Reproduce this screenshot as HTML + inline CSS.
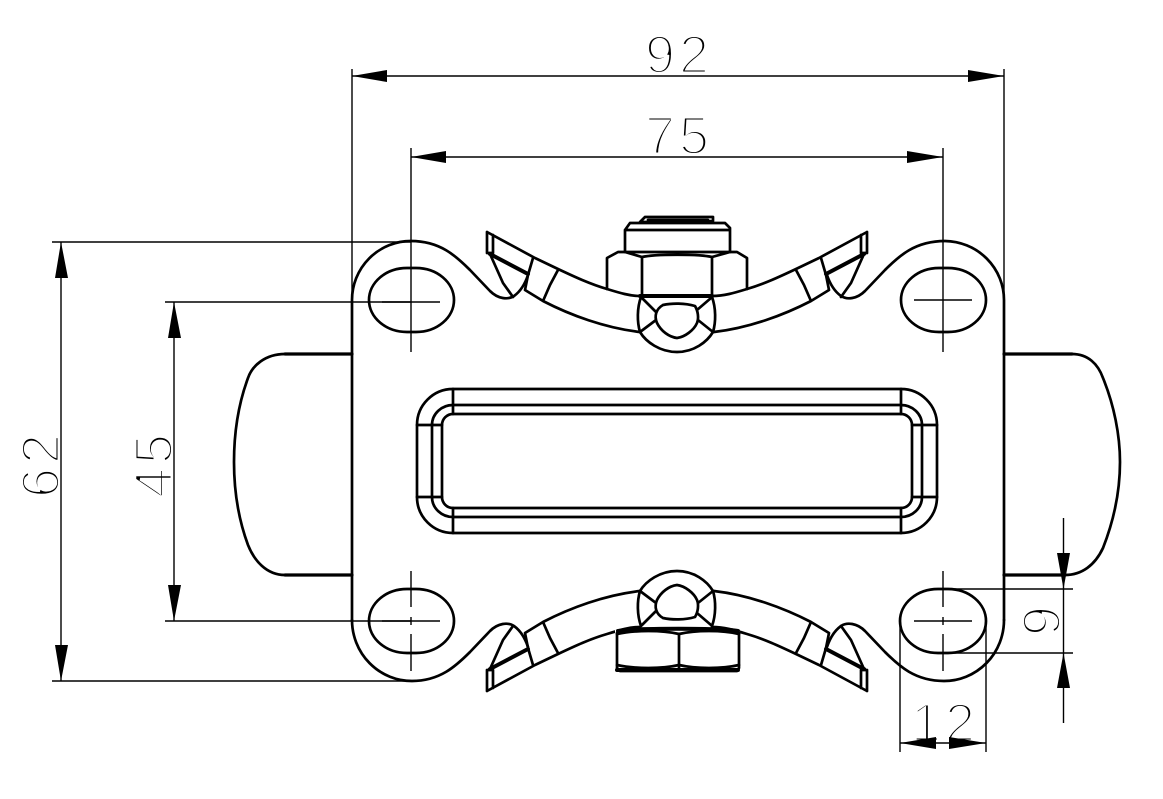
<!DOCTYPE html>
<html>
<head>
<meta charset="utf-8">
<style>
html,body{margin:0;padding:0;background:#fff}
svg{display:block}
.o{fill:none;stroke:#000;stroke-width:2.7;stroke-linejoin:round;stroke-linecap:round}
.b{fill:none;stroke:#000;stroke-width:4;stroke-linecap:round}
.h{fill:none;stroke:#000;stroke-width:3.2;stroke-linecap:round}
.d{fill:none;stroke:#000;stroke-width:1.4}
.a{fill:#000;stroke:none}
.t{font-family:"Liberation Sans",sans-serif;font-size:54px;fill:#000;stroke:#fff;stroke-width:3;paint-order:fill stroke}
</style>
</head>
<body>
<svg width="1163" height="799" viewBox="0 0 1163 799" xmlns="http://www.w3.org/2000/svg">
<rect width="1163" height="799" fill="#fff"/>

<text class="t" x="679" y="73" text-anchor="middle" letter-spacing="4">92</text>
<text class="t" x="679" y="154" text-anchor="middle" letter-spacing="4">75</text>
<text class="t" x="945" y="741" text-anchor="middle" letter-spacing="4">12</text>
<text class="t" transform="translate(59,464) rotate(-90)" text-anchor="middle" letter-spacing="4">62</text>
<text class="t" transform="translate(172,464) rotate(-90)" text-anchor="middle" letter-spacing="4">45</text>
<text class="t" transform="translate(1060,621) rotate(-90)" text-anchor="middle">9</text>

<!-- Dimension and extension lines -->
<path class="d" d="M352 76H1004M352 69V300M1004 69V300M411 157H943M411 148V352M943 148V352"/>
<path class="d" d="M61 242V681M52 242H411M52 681H405M174 302V621M165 302H411M165 621H411"/>
<path class="d" d="M900 621V752M986 621V752M900 743H986M1063.500 518V723M943 589H1073M943 653H1073"/>
<path class="d" d="M411 571V607M411 617V625M411 634V671M943 571V607M943 617V625M943 634V671"/>
<path class="d" d="M382 302H440M914 300H972M382 621H440M914 621H972"/>

<!-- Arrowheads -->
<path class="a" d="M352 76L387 70V82ZM1004 76L968 70V82ZM411 157L446 151V163ZM943 157L907 151V163Z"/>
<path class="a" d="M61 242L55 278H68ZM61 681L55 645H68ZM174 302L168 338H181ZM174 621L168 585H181Z"/>
<path class="a" d="M900 743L936 737V749ZM986 743L949 737V749ZM1063.500 589L1057 553H1070ZM1063.500 653L1057 688H1070Z"/>

<!-- Plate -->
<path class="o" d="M352 620V300A59 59 0 0 1 411 241C440 241 456 256 470 270L490 291C498 299 508 300 514 296C521 291 525 284 528 275M1004 620V300A60 59 0 0 0 945 241C915 241 899 256 885 270L865 291C857 299 847 300 841 296C834 291 830 284 827 275"/>
<path class="o" d="M352 620A60 61 0 0 0 412 681C440 681 456 666 470 652L490 631C498 623 508 622 514 626C521 631 525 638 528 647M1004 620A60 61 0 0 1 944 681C915 681 899 666 885 652L865 631C857 623 847 622 841 626C834 631 830 638 827 647"/>

<!-- Handles -->
<path class="o" d="M352 354H285C265 354 252 366 248 378C238 405 234 435 234 462C234 490 238 518 248 545C254 560 266 575 285 575H352"/>
<path class="o" d="M1004 354H1072C1088 354 1098 364 1103 378C1114 405 1120 435 1120 462C1120 490 1114 520 1103 548C1095 565 1082 575 1065 575H1004"/>
<path class="h" d="M285 354H352M285 575H352M1004 354H1072M1004 575H1065"/>

<!-- Slots -->
<rect class="o" x="369" y="268" width="85" height="64" rx="38" ry="32"/>
<rect class="o" x="901" y="268" width="85" height="64" rx="38" ry="32"/>
<rect class="o" x="369" y="589" width="85" height="64" rx="38" ry="32"/>
<rect class="o" x="900" y="589" width="86" height="64" rx="38" ry="32"/>

<!-- Central window -->
<path class="o" d="M453 389H901M453 405H901M453 414H901M453 508H901M453 517H901M453 533H901M453 389V414M453 508V533M901 389V414M901 508V533"/>
<path class="o" d="M417 425H442M417 497H442M417 425V497M432 425V497M442 425V497M912 425H937M912 497H937M937 425V497M922 425V497M912 425V497"/>
<path class="o" d="M453 389A36 36 0 0 0 417 425M453 405A21 20 0 0 0 432 425M453 414A11 11 0 0 0 442 425M417 497A36 36 0 0 0 453 533M432 497A21 20 0 0 0 453 517M442 497A11 11 0 0 0 453 508"/>
<path class="o" d="M901 389A36 36 0 0 1 937 425M901 405A21 20 0 0 1 922 425M901 414A11 11 0 0 1 912 425M937 497A36 36 0 0 1 901 533M922 497A21 20 0 0 1 901 517M912 497A11 11 0 0 1 901 508"/>

<!-- Clip halves -->
<g>
<path class="o" d="M487 232V253L493 253V235M487 232L535 258L558 269C575 277 590 284 607 289C620 293 630 296 640 296M490 254L503 283L513 297"/>
<path class="b" d="M490 254L528 274"/>
<path class="o" d="M533 258L528 275L525 290L543 301C570 315 605 328 640 332M558 270L550 285L543 301"/>
<path class="o" d="M867 232V253L861 253V235M867 232L819 258L796 269C779 277 764 284 747 289C734 293 724 296 712 296M864 254L851 283L841 297"/>
<path class="b" d="M864 254L826 274"/>
<path class="o" d="M821 258L826 275L829 290L811 301C784 315 749 328 714 332M796 270L804 285L811 301"/>
<path class="o" d="M641 297C637 308 637 322 640 332C646 342 660 352 677 352C694 352 707 342 713 332C716 322 716 308 712 297"/>
<path class="o" d="M663 305C672 303 685 303 695 306C698 311 699 318 697 323C694 330 685 337 677 338C669 337 661 331 657 323C654 316 656 309 663 305M640 332L656 320M642 298L656 312M713 332L698 320M711 298L697 310"/>
</g>

<g transform="matrix(1 0 0 -1 0 923)">
<path class="o" d="M487 232V253L493 253V235M487 232L535 258L558 269C575 277 590 284 607 289C620 293 630 296 640 296M490 254L503 283L513 297"/>
<path class="b" d="M490 254L528 274"/>
<path class="o" d="M533 258L528 275L525 290L543 301C570 315 605 328 640 332M558 270L550 285L543 301"/>
<path class="o" d="M867 232V253L861 253V235M867 232L819 258L796 269C779 277 764 284 747 289C734 293 724 296 712 296M864 254L851 283L841 297"/>
<path class="b" d="M864 254L826 274"/>
<path class="o" d="M821 258L826 275L829 290L811 301C784 315 749 328 714 332M796 270L804 285L811 301"/>
<path class="o" d="M641 297C637 308 637 322 640 332C646 342 660 352 677 352C694 352 707 342 713 332C716 322 716 308 712 297"/>
<path class="o" d="M663 305C672 303 685 303 695 306C698 311 699 318 697 323C694 330 685 337 677 338C669 337 661 331 657 323C654 316 656 309 663 305M640 332L656 320M642 298L656 312M713 332L698 320M711 298L697 310"/>
</g>

<!-- Top nut -->
<path class="o" d="M607 289V258L618 252H737L747 258V289M642 257V296M712 257V296M642 257L625 252M642 257C655 254 700 254 712 257L730 252"/>
<path class="o" d="M625 252V230L630 223H725L730 228V252M625 230H730"/>
<path class="o" d="M645 217H713V221L640 222L645 217M648 220H708"/>
<path class="b" d="M640 296H712"/>

<!-- Bottom nut -->
<rect x="615" y="630" width="125" height="42" fill="#fff"/>
<path class="o" d="M617 633V668L620 671H737L739 668V633M679 634V668"/>
<path class="o" d="M617 665C635 669 662 669 679 665C696 669 722 669 739 665"/>
<path class="o" d="M617 634C635 630 662 630 679 634C696 630 722 630 739 634"/>
<path class="b" d="M618 631C635 628 722 628 738 631M617 670H738"/>
</svg>
</body>
</html>
